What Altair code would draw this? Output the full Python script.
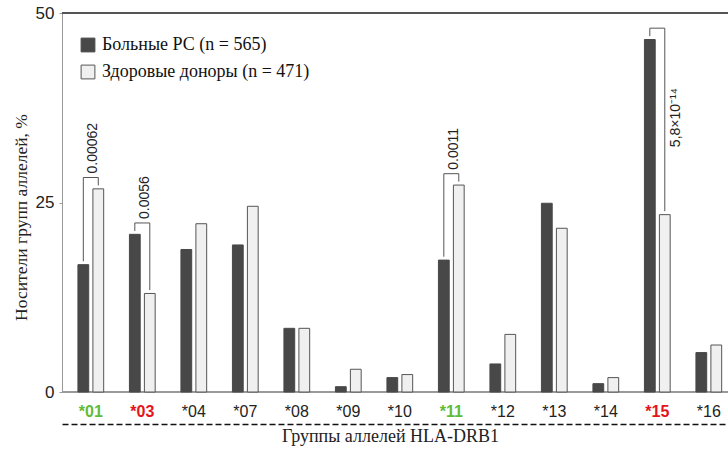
import altair as alt
import pandas as pd

# Carrier frequency (%) of HLA-DRB1 allele groups
alleles = ["*01", "*03", "*04", "*07", "*08", "*09", "*10", "*11", "*12", "*13", "*14", "*15", "*16"]
ms_patients = [16.8, 20.8, 18.8, 19.4, 8.4, 0.7, 1.9, 17.4, 3.7, 24.9, 1.1, 46.5, 5.2]
healthy_donors = [26.8, 13.0, 22.2, 24.5, 8.4, 3.0, 2.3, 27.3, 7.6, 21.6, 1.9, 23.4, 6.2]
groups = ["Больные РС (n = 565)", "Здоровые доноры (n = 471)"]

# Allele groups with a significant difference and their p-values
sig_alleles = ["*01", "*03", "*11", "*15"]
p_values = ["0.00062", "0.0056", "0.0011", "5,8×10⁻¹⁴"]
risk_alleles = ["*03", "*15"]
protective_alleles = ["*01", "*11"]

DARK = "#484848"
LIGHT = "#f0f0f0"
EDGE = "#555555"
TEXT = "#222222"
SERIF = "Liberation Serif, Times New Roman, serif"
SANS = "Liberation Sans, Arial, sans-serif"

bars = pd.DataFrame({
    "allele": alleles * 2,
    "group": [groups[0]] * len(alleles) + [groups[1]] * len(alleles),
    "value": ms_patients + healthy_donors,
})

# Significance brackets: legs start just above each bar, bar sits above the taller one
BRACKET_GAP = 1.5
LEG_GAP = 0.45
bracket_rows = []
label_rows = []
for a, p in zip(sig_alleles, p_values):
    i = alleles.index(a)
    d, h = ms_patients[i], healthy_donors[i]
    top = max(d, h) + BRACKET_GAP
    pts = [(groups[0], d + LEG_GAP), (groups[0], top), (groups[1], top), (groups[1], h + LEG_GAP)]
    for k, (g, y) in enumerate(pts):
        bracket_rows.append({"allele": a, "group": g, "y": y, "order": k})
    label_rows.append({"allele": a, "group": groups[1], "top": top,
                       "mid": (top + h + LEG_GAP) / 2, "p": p})
brackets = pd.DataFrame(bracket_rows)
labels = pd.DataFrame(label_rows)

x_scale = alt.Scale(paddingInner=0.5, paddingOuter=0.216, align=0.716)
y_scale = alt.Scale(domain=[0, 50], nice=False)

list_js = lambda xs: "[" + ",".join("'" + s + "'" for s in xs) + "]"

x_axis = alt.Axis(
    offset=32, domainDash=[6, 3], domainColor="#111111", domainWidth=1.3,
    ticks=False, tickSize=0, labelAngle=0, labelPadding=-13, labelBaseline="middle",
    labelFont=SANS, labelFontSize=16,
    labelColor={"condition": [
        {"test": f"indexof({list_js(protective_alleles)}, datum.value) >= 0", "value": "#62bb35"},
        {"test": f"indexof({list_js(risk_alleles)}, datum.value) >= 0", "value": "#e3151b"},
    ], "value": TEXT},
    labelFontWeight={"condition": {"test": f"indexof({list_js(sig_alleles)}, datum.value) >= 0",
                                   "value": "bold"}, "value": "normal"},
    title="Группы аллелей HLA-DRB1", titleFont=SERIF, titleFontSize=18,
    titleFontWeight="normal", titleColor=TEXT, titlePadding=3, titleX=328,
)
y_axis = alt.Axis(
    values=[0, 25, 50], grid=False, tickSize=3, tickColor="#999999", domainColor="#999999",
    labelFont=SANS, labelFontSize=17, labelColor=TEXT, labelPadding=5,
    title="Носители групп аллелей, %", titleFont=SERIF, titleFontSize=17.5,
    titleFontWeight="normal", titleColor=TEXT, titlePadding=5, titleY=204,
)

X = alt.X("allele:N", sort=alleles, scale=x_scale, axis=x_axis)
XO = alt.XOffset("group:N", sort=groups, scale=alt.Scale(paddingInner=0.28))

legend = alt.Legend(
    title=None, orient="none", legendX=17, legendY=23, padding=0,
    symbolType="square", symbolSize=190, symbolStrokeWidth=1,
    labelFont=SERIF, labelFontSize=18, labelColor="#111111",
    labelLimit=400, rowPadding=9, labelOffset=5,
)

bar_layer = alt.Chart(bars).mark_bar(strokeWidth=1).encode(
    x=X,
    xOffset=XO,
    y=alt.Y("value:Q", scale=y_scale, axis=y_axis),
    fill=alt.Fill("group:N", sort=groups,
                  scale=alt.Scale(domain=groups, range=[DARK, LIGHT]), legend=legend),
    stroke=alt.Stroke("group:N", sort=groups,
                      scale=alt.Scale(domain=groups, range=[DARK, EDGE]), legend=legend),
)

baseline = alt.Chart(bars).mark_rule(color="#999999", strokeWidth=1).encode(y=alt.datum(0))
top_line = alt.Chart(bars).mark_rule(color="#555555", strokeWidth=1.2).encode(y=alt.datum(50))

bracket_layer = alt.Chart(brackets).mark_line(color=EDGE, strokeWidth=1).encode(
    x=X,
    xOffset=XO,
    y=alt.Y("y:Q", scale=y_scale, axis=y_axis),
    order="order:Q",
    detail="allele:N",
)

# Rotated p-value labels; dx runs along the text, dy across it
p_above = alt.Chart(labels).transform_filter(alt.datum.allele != "*15").mark_text(
    angle=270, align="left", baseline="middle", dx=4, dy=-5,
    font=SANS, fontSize=14, color=TEXT,
).encode(
    x=X, xOffset=XO,
    y=alt.Y("top:Q", scale=y_scale, axis=y_axis),
    text="p:N",
)

p_beside = alt.Chart(labels).transform_filter(alt.datum.allele == "*15").mark_text(
    angle=270, align="center", baseline="middle", dx=2, dy=11,
    font=SANS, fontSize=14, color=TEXT,
).encode(
    x=X, xOffset=XO,
    y=alt.Y("mid:Q", scale=y_scale, axis=y_axis),
    text="p:N",
)

chart = alt.layer(
    baseline, top_line, bar_layer, bracket_layer, p_above, p_beside
).properties(
    width=666, height=379,
    padding={"left": 62, "top": 13, "right": 0, "bottom": 60},
    autosize=alt.AutoSizeParams(type="none"),
).configure_view(stroke="transparent")

chart.save("out.html", embed_options={"renderer": "svg", "actions": False})
